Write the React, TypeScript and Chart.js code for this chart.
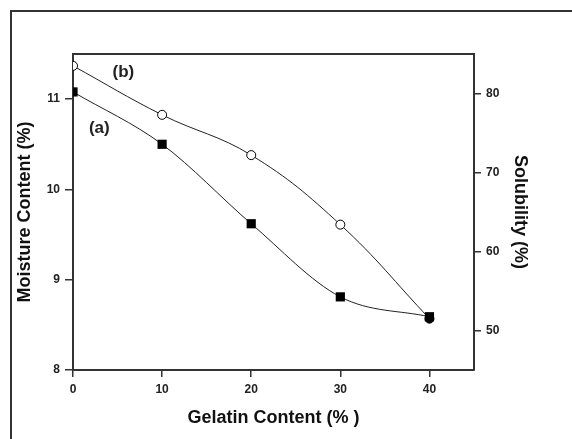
import React, { useEffect, useRef } from 'react';
import { Chart, registerables } from 'chart.js';
Chart.register(...registerables);

const gelatin = [0, 10, 20, 30, 40];
const moisture = [11.08, 10.5, 9.62, 8.81, 8.59];
const solubility = [83.5, 77.3, 72.2, 63.4, 51.5];
const xTicks = [0, 10, 20, 30, 40];
const moistureTicks = [8, 9, 10, 11];
const solubilityTicks = [50, 60, 70, 80];
const curveLabels = ['(a)', '(b)'];
const curveLabelX = [2.95, 5.65];
const curveLabelY = [10.68, 11.3];

const FONT = "'Liberation Sans', Arial, sans-serif";
const AXIS = '#333';

const decor = {
  id: 'decor',
  beforeDraw(chart: any) {
    const { ctx } = chart;
    ctx.save();
    ctx.fillStyle = '#fff';
    ctx.fillRect(0, 0, chart.width, chart.height);
    ctx.restore();
  },
  afterDraw(chart: any) {
    const { ctx, chartArea, scales } = chart;
    ctx.save();
    ctx.strokeStyle = AXIS;
    ctx.lineWidth = 2;
    ctx.beginPath();
    ctx.moveTo(chartArea.left - 1, chartArea.top);
    ctx.lineTo(chartArea.right + 1, chartArea.top);
    ctx.stroke();
    ctx.beginPath();
    ctx.moveTo(11, chart.height);
    ctx.lineTo(11, 11);
    ctx.lineTo(chart.width, 11);
    ctx.stroke();
    ctx.fillStyle = '#222';
    ctx.font = `bold 17px ${FONT}`;
    ctx.textAlign = 'center';
    ctx.textBaseline = 'middle';
    curveLabels.forEach((t, i) => {
      ctx.fillText(t, scales.x.getPixelForValue(curveLabelX[i]), scales.y.getPixelForValue(curveLabelY[i]));
    });
    ctx.restore();
  },
};

const tickFont = { family: FONT, size: 12, weight: 'bold' as const };
const titleFont = { family: FONT, size: 18, weight: 'bold' as const };

export default function App() {
  const ref = useRef<HTMLCanvasElement>(null);
  useEffect(() => {
    if (!ref.current) return;
    const chart = new Chart(ref.current, {
      type: 'line',
      data: {
        datasets: [
          {
            label: 'Moisture Content',
            data: gelatin.map((x, i) => ({ x, y: moisture[i] })),
            xAxisID: 'x',
            yAxisID: 'y',
            borderColor: '#222',
            borderWidth: 1,
            pointStyle: 'rect',
            pointRadius: 6.5,
            pointBackgroundColor: '#000',
            pointBorderColor: '#000',
            pointBorderWidth: 0,
            cubicInterpolationMode: 'monotone',
            clip: 0,
          },
          {
            label: 'Solubility',
            data: gelatin.map((x, i) => ({ x, y: solubility[i] })),
            xAxisID: 'x',
            yAxisID: 'y1',
            borderColor: '#222',
            borderWidth: 1,
            pointStyle: 'circle',
            pointRadius: 4.5,
            pointBackgroundColor: solubility.map((_, i) => (i === solubility.length - 1 ? '#000' : '#fff')),
            pointBorderColor: '#000',
            pointBorderWidth: 1,
            tension: 0.4,
            clip: 0,
          },
        ],
      },
      options: {
        responsive: false,
        animation: false,
        layout: { padding: { top: 54, left: 0, right: 0, bottom: 0 } },
        plugins: { legend: { display: false }, tooltip: { enabled: false } },
        scales: {
          x: {
            type: 'linear',
            position: 'bottom',
            min: 0,
            max: 45,
            afterBuildTicks: (s: any) => { s.ticks = xTicks.map((v) => ({ value: v })); },
            afterFit: (s: any) => { s.height = 69; },
            grid: { drawOnChartArea: false, drawTicks: true, tickLength: 7, color: AXIS, lineWidth: 1.5 },
            border: { display: true, color: AXIS, width: 2 },
            ticks: { color: '#222', font: tickFont, padding: 5, maxRotation: 0, autoSkip: false },
            title: { display: true, text: 'Gelatin Content (% )', color: '#111', font: titleFont, padding: { top: 0, bottom: 10 } },
          },
          y: {
            type: 'linear',
            position: 'left',
            min: 8,
            max: 11.5,
            afterBuildTicks: (s: any) => { s.ticks = moistureTicks.map((v) => ({ value: v })); },
            afterFit: (s: any) => { s.width = 73; },
            grid: { drawOnChartArea: false, drawTicks: true, tickLength: 8, color: AXIS, lineWidth: 1.5 },
            border: { display: true, color: AXIS, width: 2 },
            ticks: { color: '#222', font: tickFont, padding: 5 },
            title: { display: true, text: 'Moisture Content (%)', color: '#111', font: titleFont, padding: { top: 14, bottom: 0 } },
          },
          y1: {
            type: 'linear',
            position: 'right',
            min: 45,
            max: 85,
            afterBuildTicks: (s: any) => { s.ticks = solubilityTicks.map((v) => ({ value: v })); },
            afterFit: (s: any) => { s.width = 98; },
            grid: { drawOnChartArea: false, drawTicks: true, tickLength: 7, color: AXIS, lineWidth: 1.5 },
            border: { display: true, color: AXIS, width: 2 },
            ticks: { color: '#222', font: tickFont, padding: 5 },
            title: { display: true, text: 'Solubility (%)', color: '#111', font: titleFont, padding: { top: 41, bottom: 0 } },
          },
        },
      },
      plugins: [decor],
    } as any);
    return () => chart.destroy();
  }, []);
  return (
    <div style={{ position: 'fixed', left: 0, top: 0, width: 572, height: 439, background: '#fff' }}>
      <canvas ref={ref} width={572} height={439} style={{ display: 'block' }} />
    </div>
  );
}
